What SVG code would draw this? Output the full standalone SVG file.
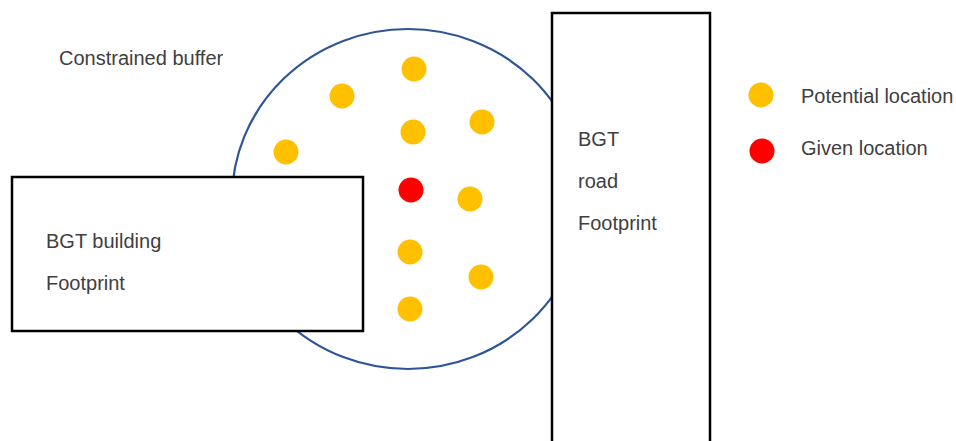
<svg xmlns="http://www.w3.org/2000/svg" width="956" height="441" viewBox="0 0 956 441">
<style>
text{font-family:"Liberation Sans",Arial,sans-serif;font-size:20px;fill:#404040}
.pot{fill:#FFC000}
.giv{fill:#FF0000}
.box{fill:#fff;stroke:#000;stroke-width:2.5}
</style>
<rect width="956" height="441" fill="#fff"/>
<g id="buffer">
<ellipse cx="408" cy="199" rx="176" ry="170" fill="none" stroke="#2F5597" stroke-width="2.2"/>
<text x="59" y="65">Constrained buffer</text>
</g>
<g id="points">
<circle class="pot" cx="414" cy="69" r="12.5"/>
<circle class="pot" cx="342" cy="96" r="12.5"/>
<circle class="pot" cx="413" cy="132" r="12.5"/>
<circle class="pot" cx="482" cy="122" r="12.5"/>
<circle class="pot" cx="286" cy="152" r="12.5"/>
<circle class="giv" cx="411" cy="190" r="12.5"/>
<circle class="pot" cx="470" cy="199" r="12.5"/>
<circle class="pot" cx="410" cy="252" r="12.5"/>
<circle class="pot" cx="481" cy="277" r="12.5"/>
<circle class="pot" cx="410" cy="309" r="12.5"/>
</g>
<g id="building">
<rect class="box" x="12" y="177" width="351" height="154"/>
<text x="46" y="248">BGT building</text>
<text x="46" y="290">Footprint</text>
</g>
<g id="road">
<rect class="box" x="552" y="13" width="158" height="440"/>
<text x="578" y="146">BGT</text>
<text x="578" y="188">road</text>
<text x="578" y="230">Footprint</text>
</g>
<g id="legend">
<circle class="pot" cx="761" cy="95" r="12.5"/>
<text x="801" y="103">Potential location</text>
<circle class="giv" cx="762" cy="151" r="12.5"/>
<text x="801" y="155">Given location</text>
</g>
<g id="connectors"/>
</svg>
